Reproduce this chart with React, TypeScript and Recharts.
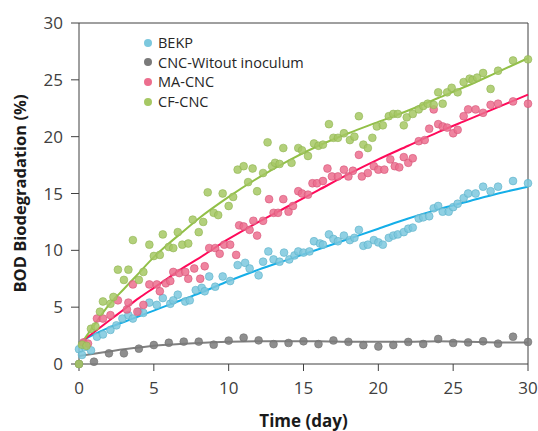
import React from "react"
import { ComposedChart, Scatter, Line, XAxis, YAxis, ReferenceLine } from "recharts"

// measured points, [day, %]
const bekpPts: [number, number][] = [
  [0, 1.3], [0.2, 0.8], [0.4, 1.5], [0.8, 1.2], [1.2, 2.4], [1.6, 2.6], [2.1, 3.0], [2.5, 3.4], [2.9, 4.0],
  [3.3, 4.3], [3.6, 4.0], [4.0, 4.6], [4.3, 4.5], [4.7, 5.4], [5.2, 5.2], [5.6, 5.8], [6.1, 5.3], [6.3, 5.6],
  [6.6, 6.1], [7.1, 5.5], [7.4, 5.6], [7.8, 6.5], [8.2, 6.7], [8.4, 6.4], [8.7, 7.7], [9.1, 6.8], [9.6, 7.7],
  [10.1, 7.3], [10.6, 8.7], [11.1, 8.9], [11.4, 8.4], [12.0, 7.8], [12.3, 9.0], [12.65, 9.9], [13.0, 9.2],
  [13.4, 9.0], [13.7, 9.8], [14.05, 9.2], [14.4, 9.55], [14.65, 9.9], [15.0, 9.8], [15.4, 9.9], [15.7, 10.8],
  [16.1, 10.6], [16.3, 10.5], [16.7, 11.4], [17.0, 11.0], [17.3, 10.8], [17.7, 11.3], [18.1, 10.9], [18.4, 11.1],
  [18.7, 11.8], [19.0, 10.4], [19.3, 10.5], [19.7, 10.9], [20.0, 10.7], [20.3, 10.5], [20.7, 11.1], [21.0, 11.3],
  [21.3, 11.4], [21.7, 11.6], [22.0, 11.9], [22.3, 12.0], [22.7, 12.8], [23.0, 12.9], [23.4, 13.0], [23.7, 13.7],
  [24.0, 13.9], [24.3, 13.4], [24.7, 13.4], [25.0, 13.8], [25.3, 14.1], [25.7, 14.6], [26.0, 15.0], [26.5, 15.0],
  [27.0, 15.6], [27.5, 15.2], [28.0, 15.6], [29.0, 16.1], [30.0, 15.9],
]

const cncPts: [number, number][] = [
  [0, 0], [1, 0.2], [2, 0.94], [3, 0.94], [4, 1.35], [5, 1.67], [6, 1.87], [7, 1.97], [8, 1.97], [9, 1.7],
  [10, 2.06], [11, 2.32], [12, 2.08], [13, 1.75], [14, 1.85], [15, 2.0], [16, 1.75], [17, 2.07], [18, 1.95],
  [19, 1.66], [20, 1.54], [21, 1.67], [22, 1.94], [23, 1.76], [24, 2.2], [25, 1.85], [26, 1.9], [27, 2.0],
  [28, 1.79], [29, 2.4], [30, 1.94],
]

const maPts: [number, number][] = [
  [0.3, 1.9], [0.6, 1.8], [1.2, 4.0], [1.6, 4.0], [2.1, 4.3], [2.6, 5.6], [3.2, 4.8], [3.3, 5.4], [3.6, 7.0],
  [3.9, 4.6], [4.3, 5.2], [4.7, 7.0], [5.2, 7.0], [5.4, 6.4], [5.8, 7.1], [6.1, 7.3], [6.3, 8.1], [6.7, 8.0],
  [7.1, 8.1], [7.3, 7.5], [7.7, 8.4], [8.1, 7.5], [8.4, 8.6], [8.7, 10.2], [9.1, 10.2], [9.4, 9.7], [9.7, 10.5],
  [10.1, 10.5], [10.5, 9.6], [10.7, 12.2], [11.0, 12.1], [11.4, 11.8], [11.65, 12.6], [11.9, 11.3], [12.3, 12.6],
  [12.7, 14.5], [13.0, 13.3], [13.3, 13.3], [13.65, 14.5], [14.0, 13.4], [14.3, 13.9], [14.65, 15.2], [14.9, 15.0],
  [15.3, 14.9], [15.6, 15.9], [15.9, 15.9], [16.3, 16.1], [16.6, 17.2], [16.9, 16.5], [17.3, 16.5], [17.7, 17.1],
  [18.0, 16.5], [18.3, 17.0], [18.7, 18.4], [18.9, 16.5], [19.3, 16.8], [19.7, 17.4], [20.0, 17.1], [20.4, 17.1],
  [20.8, 18.0], [21.1, 17.4], [21.4, 17.3], [21.7, 18.2], [22.0, 17.7], [22.3, 18.1], [22.7, 19.6], [23.1, 19.7],
  [23.4, 20.7], [23.7, 22.4], [24.0, 21.1], [24.3, 20.9], [24.6, 20.8], [25.0, 20.3], [25.3, 20.6], [25.7, 21.8],
  [26.0, 22.4], [26.5, 22.4], [27.0, 22.1], [27.5, 22.8], [28.0, 22.9], [29.0, 23.1], [30.0, 22.9],
]

const cfPts: [number, number][] = [
  [0, 0], [0.2, 1.7], [0.5, 1.6], [0.8, 3.1], [1.1, 3.3], [1.4, 4.6], [1.6, 5.5], [2.1, 5.3], [2.3, 5.9],
  [2.6, 8.3], [3.0, 7.4], [3.3, 8.3], [3.6, 10.9], [4.0, 7.4], [4.3, 8.1], [4.7, 10.5], [5.0, 9.5], [5.4, 9.6],
  [5.6, 11.4], [6.0, 10.3], [6.3, 10.2], [6.6, 11.6], [6.9, 10.5], [7.3, 10.6], [7.6, 12.7], [8.0, 11.6],
  [8.3, 12.5], [8.6, 15.1], [9.0, 13.3], [9.3, 13.1], [9.6, 15.0], [10.0, 13.9], [10.3, 14.7], [10.6, 17.1],
  [11.0, 17.4], [11.3, 16.0], [11.6, 17.2], [11.9, 15.2], [12.3, 16.8], [12.6, 19.5], [12.9, 17.4], [13.1, 17.7],
  [13.4, 17.6], [13.65, 19.0], [14.2, 17.7], [14.65, 19.0], [14.9, 18.8], [15.3, 18.3], [15.7, 19.4], [16.0, 19.2],
  [16.3, 19.3], [16.7, 21.1], [17.0, 19.9], [17.3, 19.9], [17.7, 20.3], [18.1, 19.7], [18.4, 20.0], [18.7, 21.8],
  [19.0, 19.3], [19.3, 19.0], [19.6, 19.9], [19.9, 20.9], [20.3, 21.0], [20.7, 21.8], [21.0, 22.0], [21.3, 22.0],
  [21.7, 21.0], [21.9, 21.7], [22.3, 22.0], [22.7, 22.4], [23.0, 22.7], [23.3, 22.9], [23.7, 22.8], [24.0, 23.9],
  [24.3, 22.9], [24.6, 23.9], [24.9, 24.3], [25.3, 23.9], [25.7, 24.8], [26.1, 25.1], [26.3, 25.0], [26.6, 25.2],
  [27.0, 25.6], [27.5, 24.2], [28.0, 25.8], [29.0, 26.7], [30.0, 26.8],
]

// trend lines
const fitDays = [0, 1, 2, 3, 4, 5, 6, 7, 8, 10, 12, 14, 16, 18, 20, 22, 24, 26, 28, 30]
const bekpFit = [1.9, 2.6, 3.2, 3.7, 4.2, 4.7, 5.2, 5.7, 6.2, 7.3, 8.3, 9.2, 10.1, 11.0, 11.9, 12.8, 13.6, 14.3, 15.0, 15.6]
const cncFit = [0.7, 0.9, 1.1, 1.3, 1.45, 1.6, 1.7, 1.78, 1.85, 1.95, 2.0, 2.0, 2.0, 1.95, 1.95, 1.95, 2.0, 1.95, 1.9, 1.9]
const maFit = [1.8, 2.8, 3.8, 4.8, 5.8, 6.7, 7.6, 8.5, 9.3, 11.0, 12.5, 13.9, 15.3, 16.7, 18.0, 19.2, 20.4, 21.5, 22.6, 23.7]
const cfFit = [1.5, 3.4, 5.2, 6.6, 8.0, 9.4, 10.6, 11.7, 12.8, 14.7, 16.4, 17.9, 19.2, 20.3, 21.3, 22.3, 23.4, 24.5, 25.7, 26.9]

const ticks = [0, 5, 10, 15, 20, 25, 30]

const series = [
  { name: "BEKP", pts: bekpPts, fit: bekpFit, fill: "#7cc8de", stroke: "#5db2ca", line: "#14aee8" },
  { name: "CNC-Witout inoculum", pts: cncPts, fit: cncFit, fill: "#7a7a7a", stroke: "#707070", line: "#808080" },
  { name: "MA-CNC", pts: maPts, fit: maFit, fill: "#ec6e8e", stroke: "#d65479", line: "#ff0a5a" },
  { name: "CF-CNC", pts: cfPts, fit: cfFit, fill: "#a6c864", stroke: "#90b652", line: "#92c047" },
]

const FONT = "'Open Sans', sans-serif"

export default function App() {
  return (
    <div style={{ position: "absolute", left: 0, top: 0, width: 538, height: 431, background: "#fff", fontFamily: FONT }}>
      <ComposedChart width={538} height={431} margin={{ top: 23, right: 10, left: 0, bottom: 0 }}>
        <XAxis
          type="number"
          dataKey="x"
          domain={[0, 30]}
          ticks={ticks}
          height={67}
          tickSize={7}
          tickMargin={11}
          stroke="#404040"
          tick={{ fontSize: 17, fill: "#404040", fontFamily: FONT }}
          label={{ value: "Time (day)", position: "insideBottom", offset: 4, style: { fontSize: 17, fontWeight: 700, fill: "#1a1a1a", fontFamily: FONT } }}
        />
        <YAxis
          type="number"
          dataKey="y"
          domain={[0, 30]}
          ticks={ticks}
          width={79}
          tickSize={8}
          tickMargin={8}
          stroke="#404040"
          tick={{ fontSize: 17, fill: "#404040", fontFamily: FONT }}
          label={{ value: "BOD Biodegradation (%)", angle: -90, position: "insideLeft", offset: 20, style: { fontSize: 16.5, fontWeight: 700, fill: "#1a1a1a", fontFamily: FONT, textAnchor: "middle" } }}
        />
        <ReferenceLine y={30} stroke="#404040" />
        <ReferenceLine x={30} stroke="#404040" />
        {series.map((s) => (
          <Scatter
            key={s.name}
            name={s.name}
            data={s.pts.map(([x, y]) => ({ x, y }))}
            isAnimationActive={false}
            shape={(p: any) => (
              <circle cx={p.cx} cy={p.cy} r={3.9} fill={s.fill} fillOpacity={0.85} stroke={s.stroke} strokeWidth={0.6} />
            )}
          />
        ))}
        {series.map((s) => (
          <Line
            key={s.name + "-fit"}
            data={fitDays.map((x, i) => ({ x, y: s.fit[i] }))}
            dataKey="y"
            type="monotone"
            stroke={s.line}
            strokeWidth={2}
            dot={false}
            activeDot={false}
            isAnimationActive={false}
          />
        ))}
      </ComposedChart>
      <div style={{ position: "absolute", left: 144, top: 33, fontSize: 14.5, color: "#262626", lineHeight: "19.6px" }}>
        {series.map((s) => (
          <div key={s.name} style={{ display: "flex", alignItems: "center", whiteSpace: "nowrap" }}>
            <span style={{ display: "inline-block", width: 8, height: 8, borderRadius: 4, background: s.fill, marginRight: 6 }} />
            {s.name}
          </div>
        ))}
      </div>
    </div>
  )
}
